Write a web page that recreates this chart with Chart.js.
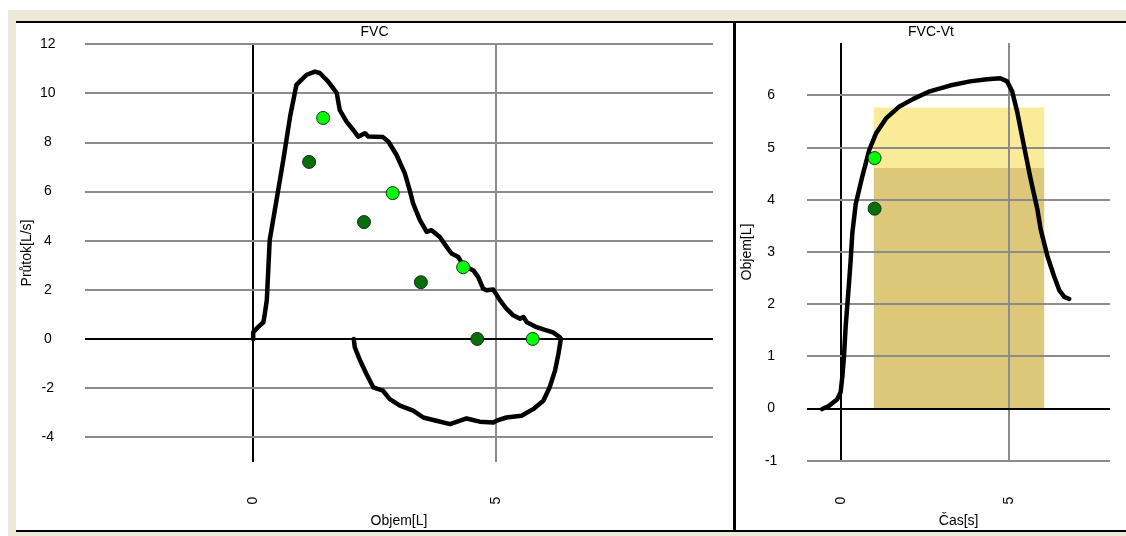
<!DOCTYPE html>
<html>
<head>
<meta charset="utf-8">
<script src="https://cdn.jsdelivr.net/npm/chart.js@4.4.1/dist/chart.umd.min.js"></script>
<style>
    body { margin: 0; background: #fff; width: 1126px; height: 536px; position: relative; overflow: hidden; }
    #frame { position: absolute; left: 8px; top: 10px; width: 1118px; height: 526px; background: #ece9d8; }
    #panel { position: absolute; left: 16px; top: 21px; width: 1110px; height: 507px; background: #fff;
             border-top: 2px solid #000; border-bottom: 2px solid #000; }
    #divider { position: absolute; left: 733px; top: 21px; width: 3px; height: 511px; background: #000; }
    canvas { position: absolute; top: 23px; }
    #fvcChart { left: 16px; }
    #vtChart { left: 736px; }
</style>
</head>
<body>
<div id="frame"></div>
<div id="panel"></div>
<div id="divider"></div>
<canvas id="fvcChart" width="717" height="507"></canvas>
<canvas id="vtChart" width="390" height="507"></canvas>
<script>
// FVC flow-volume loop (volume L, flow L/s)
const fvcVolume = [0, 0, 0.10, 0.21, 0.24, 0.28, 0.34, 0.48, 0.62, 0.76, 0.89, 0.96, 1.10, 1.27, 1.37, 1.54, 1.72,
    1.78, 1.92, 2.06, 2.16, 2.30, 2.37, 2.67, 2.78, 2.95, 3.12, 3.22, 3.29, 3.43, 3.57, 3.67, 3.84, 3.98, 4.08,
    4.22, 4.32, 4.53, 4.63, 4.73, 4.80, 4.94, 5.08, 5.21, 5.35, 5.49, 5.56, 5.63, 5.83, 6.00, 6.17, 6.31, 6.33,
    6.28, 6.21, 6.10, 5.97, 5.76, 5.52, 5.21, 5.01, 4.94, 4.66, 4.39, 4.05, 3.77, 3.50, 3.29, 3.02, 2.81, 2.67,
    2.47, 2.33, 2.20, 2.09, 2.07];
const fvcFlow = [0, 0.27, 0.48, 0.68, 1.03, 1.57, 4.02, 5.65, 7.29, 9.06, 10.35, 10.49, 10.76, 10.89, 10.83, 10.49, 10.01,
    9.33, 8.85, 8.51, 8.24, 8.38, 8.24, 8.22, 8.04, 7.49, 6.74, 6.06, 5.52, 4.84, 4.36, 4.43, 4.15, 3.75, 3.48,
    3.34, 3.00, 2.79, 2.52, 2.05, 1.98, 2.01, 1.57, 1.23, 0.96, 0.82, 0.89, 0.68, 0.48, 0.37, 0.27, 0.07, 0,
    -0.61, -1.29, -1.97, -2.52, -2.86, -3.13, -3.20, -3.33, -3.40, -3.37, -3.24, -3.47, -3.33, -3.20, -2.92, -2.72, -2.45, -2.11,
    -1.97, -1.43, -0.88, -0.34, 0];
const fvcLightVol = [1.44, 2.87, 4.32, 5.75];
const fvcLightFlow = [9.00, 5.94, 2.92, 0];
const fvcDarkVol = [1.15, 2.28, 3.45, 4.61];
const fvcDarkFlow = [7.21, 4.76, 2.31, 0];
const fvcXTicks = [0, 5];
const fvcYTicks = [-4, -2, 0, 2, 4, 6, 8, 10, 12];

// FVC volume-time (time s, volume L)
const vtTime = [-0.56, -0.36, -0.11, -0.01, 0.04, 0.09, 0.14, 0.24, 0.29, 0.34, 0.44, 0.64, 0.84, 1.04, 1.34, 1.74,
    2.14, 2.64, 3.24, 3.84, 4.34, 4.74, 4.94, 5.09, 5.24, 5.44, 5.64, 5.84, 5.94, 6.14, 6.34, 6.49, 6.64, 6.79];
const vtVolume = [-0.01, 0.05, 0.18, 0.31, 0.60, 0.99, 1.57, 2.40, 2.85, 3.37, 3.92, 4.46, 4.95, 5.27, 5.56, 5.79,
    5.93, 6.08, 6.19, 6.27, 6.31, 6.33, 6.27, 6.08, 5.69, 5.04, 4.40, 3.82, 3.43, 2.92, 2.53, 2.27, 2.14, 2.10];
const vtBandTime = [0.97, 6.05];
const vtBandUpper = [5.77, 5.77];
const vtBandLower = [4.61, 4.61];
const vtLightTime = [1.0];
const vtLightVol = [4.80];
const vtDarkTime = [1.0];
const vtDarkVol = [3.83];
const vtXTicks = [0, 5];
const vtYTicks = [-1, 0, 1, 2, 3, 4, 5, 6];

const toPoints = (xs, ys) => xs.map((x, i) => ({ x: x, y: ys[i] }));
const gridColor = ctx => (ctx.tick && ctx.tick.value === 0 ? '#000000' : '#8c8c8c');
const labelFont = { family: '"Liberation Sans", Arial, sans-serif', size: 14, weight: 'normal' };

function curveSet(data) {
    return {
        data: data, showLine: true, borderColor: '#000', borderWidth: 4.5,
        borderJoinStyle: 'round', borderCapStyle: 'round', pointRadius: 0, fill: false
    };
}
function markSet(data, color) {
    return {
        data: data, showLine: false, pointRadius: 6.5, pointBackgroundColor: color,
        pointBorderColor: '#1c2a1c', pointBorderWidth: 1
    };
}
function makeScales(cfg) {
    return {
        x: {
            type: 'linear', min: cfg.xMin, max: cfg.xMax,
            afterBuildTicks: s => { s.ticks = cfg.xTicks.map(v => ({ value: v })); },
            afterFit: s => { s.height = cfg.xHeight; s.paddingLeft = 0; s.paddingRight = 0; },
            grid: { color: gridColor, lineWidth: 2, drawTicks: false },
            border: { display: false },
            ticks: { minRotation: 90, maxRotation: 90, autoSkip: false, padding: cfg.xPad, color: '#000', font: labelFont },
            title: { display: true, text: cfg.xTitle, color: '#000', font: labelFont, padding: { top: 0, bottom: 0.6 } }
        },
        y: {
            type: 'linear', min: cfg.yMin, max: cfg.yMax,
            afterBuildTicks: s => { s.ticks = cfg.yTicks.map(v => ({ value: v })); },
            afterFit: s => { s.width = cfg.yWidth; s.paddingTop = 0; s.paddingBottom = 0; },
            grid: { color: gridColor, lineWidth: 2, drawTicks: false },
            border: { display: false },
            ticks: { crossAlign: 'center', padding: cfg.yPad, color: '#000', font: labelFont },
            title: { display: true, text: cfg.yTitle, color: '#000', font: labelFont, padding: { top: cfg.yTitlePad, bottom: 0 } }
        }
    };
}

// gridlines show through the yellow bands, so draw them again after the bands
const gridOverBands = {
    id: 'gridOverBands',
    afterDatasetDraw(chart, args) {
        if (!chart.data.datasets[args.index].gridAfter) return;
        chart.scales.x.drawGrid(chart.chartArea);
        chart.scales.y.drawGrid(chart.chartArea);
    }
};

new Chart(document.getElementById('fvcChart'), {
    type: 'scatter',
    data: {
        datasets: [
            markSet(toPoints(fvcLightVol, fvcLightFlow), '#00ff00'),
            markSet(toPoints(fvcDarkVol, fvcDarkFlow), '#087008'),
            curveSet(toPoints(fvcVolume, fvcFlow))
        ]
    },
    options: {
        responsive: false,
        animation: false,
        layout: { padding: { left: 20, right: 20, top: 0, bottom: 0 } },
        plugins: {
            legend: { display: false },
            tooltip: { enabled: false },
            title: { display: true, text: 'FVC', color: '#000', font: labelFont, padding: { top: 1.1, bottom: 3.4 } }
        },
        scales: makeScales({
            xMin: -3.46, xMax: 9.46, xTicks: fvcXTicks, xHeight: 68.3, xPad: 35, xTitle: 'Objem[L]',
            yMin: -5, yMax: 12, yTicks: fvcYTicks, yWidth: 49, yPad: 29.4, yTitle: 'Průtok[L/s]', yTitlePad: -17.4
        })
    }
});

const lightBand = {
    data: toPoints(vtBandTime, vtBandUpper), showLine: true, borderWidth: 0, pointRadius: 0,
    backgroundColor: '#f9eb98', fill: 'origin'
};
const darkBand = {
    data: toPoints(vtBandTime, vtBandLower), showLine: true, borderWidth: 0, pointRadius: 0,
    backgroundColor: '#dcc878', fill: 'origin', gridAfter: true
};

new Chart(document.getElementById('vtChart'), {
    type: 'scatter',
    data: {
        datasets: [
            markSet(toPoints(vtLightTime, vtLightVol), '#00ff00'),
            markSet(toPoints(vtDarkTime, vtDarkVol), '#087008'),
            curveSet(toPoints(vtTime, vtVolume)),
            darkBand,
            lightBand
        ]
    },
    options: {
        responsive: false,
        animation: false,
        layout: { padding: { left: 16, right: 16, top: 0, bottom: 0 } },
        plugins: {
            legend: { display: false },
            tooltip: { enabled: false },
            title: { display: true, text: 'FVC-Vt', color: '#000', font: labelFont, padding: { top: 0.6, bottom: 2.9 } }
        },
        scales: makeScales({
            xMin: -1, xMax: 8, xTicks: vtXTicks, xHeight: 69.3, xPad: 36, xTitle: 'Čas[s]',
            yMin: -1, yMax: 7, yTicks: vtYTicks, yWidth: 55.3, yPad: 29.9, yTitle: 'Objem[L]', yTitlePad: -12.9
        })
    },
    plugins: [gridOverBands]
});
</script>
</body>
</html>
